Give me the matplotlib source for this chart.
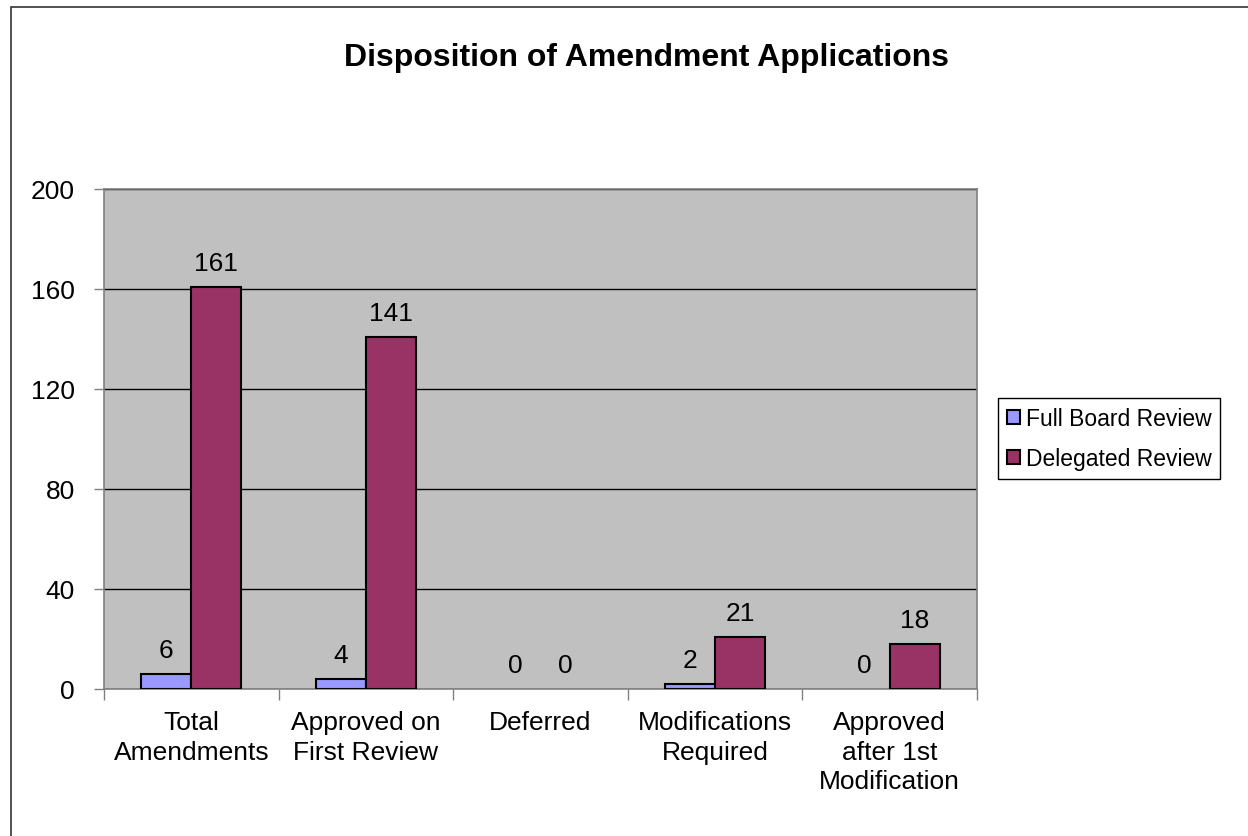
import matplotlib
matplotlib.use("Agg")
import matplotlib.pyplot as plt
from matplotlib.patches import Rectangle
import numpy as np

categories = ["Total\nAmendments", "Approved on\nFirst Review", "Deferred",
              "Modifications\nRequired", "Approved\nafter 1st\nModification"]
full_board = [6, 4, 0, 2, 0]
delegated = [161, 141, 0, 21, 18]
series_names = ["Full Board Review", "Delegated Review"]
yticks = [0, 40, 80, 120, 160, 200]
title = "Disposition of Amendment Applications"

plt.rcParams['font.family'] = ['Liberation Sans', 'DejaVu Sans']

W, H = 1248, 837
fig = plt.figure(figsize=(W / 100, H / 100), dpi=100)

# outer chart border
fig.patches.append(Rectangle((11 / W, -0.1), 1.2, 1 - 8 / H + 0.1, transform=fig.transFigure,
                             fill=False, edgecolor='#333333', linewidth=1.2, zorder=0))

ax = fig.add_axes([104 / W, 1 - 690 / H, (977 - 104) / W, 500 / H])
ax.set_facecolor('#C0C0C0')

x = np.arange(len(categories))
bw = 1 / 3.5
b1 = ax.bar(x - bw / 2, full_board, bw, color='#9999FF', edgecolor='black', linewidth=1.5,
            label=series_names[0], zorder=3)
b2 = ax.bar(x + bw / 2, delegated, bw, color='#993366', edgecolor='black', linewidth=1.5,
            label=series_names[1], zorder=3)

for bars, vals in ((b1, full_board), (b2, delegated)):
    for rect, v in zip(bars, vals):
        if v == 0:
            rect.set_linewidth(0)
        ax.annotate(str(v), (rect.get_x() + rect.get_width() / 2, v), xytext=(0, 11.9),
                    textcoords='offset points', ha='center', va='baseline', fontsize=19, zorder=4)

ax.set_xlim(-0.5, len(categories) - 0.5)
ax.set_ylim(0, 200)
ax.set_yticks(yticks)
ax.set_yticklabels([str(t) for t in yticks], fontsize=19)
ax.yaxis.grid(True, color='black', linewidth=1, zorder=1)
ax.set_axisbelow(True)

ax.set_xticks(np.arange(len(categories) + 1) - 0.5)
ax.set_xticklabels([])
ax.set_xticks(x, minor=True)
ax.set_xticklabels(categories, minor=True, fontsize=19, linespacing=1.3)
ax.tick_params(axis='x', which='major', length=8, width=1, color='#808080', direction='out')
ax.tick_params(axis='x', which='minor', length=0, pad=15)
ax.tick_params(axis='y', length=7, width=1, color='#808080', pad=14)

for s in ax.spines.values():
    s.set_color('#808080')
    s.set_linewidth(1.2)

fig.text((345 + 948) / 2 / W, 1 - 58 / H, title, ha='center', va='center',
         fontsize=23, fontweight='bold')

leg = fig.legend(handles=[b1, b2], labels=series_names, loc='center left',
                 bbox_to_anchor=(998 / W, 1 - 439.5 / H), fontsize=16.5,
                 frameon=True, fancybox=False, edgecolor='black', framealpha=1,
                 handlelength=0.55, handleheight=0.55, handletextpad=0.25,
                 labelspacing=0.75, borderpad=0.4, borderaxespad=0)
leg.get_frame().set_linewidth(1.0)

fig.savefig("out.png", dpi=100)
